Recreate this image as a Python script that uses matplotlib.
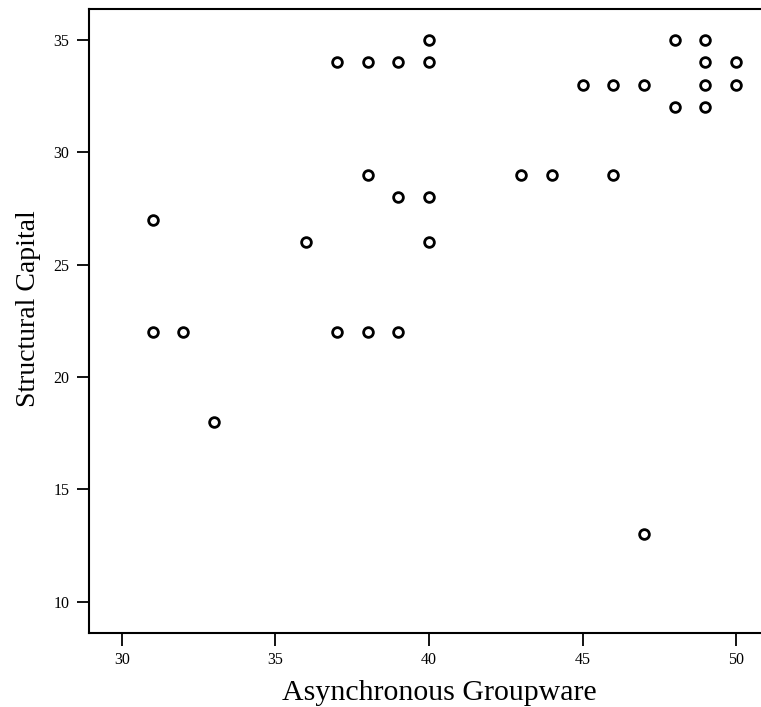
"""Scatter of structural capital against asynchronous groupware scores."""
import matplotlib.pyplot as plt

# observed (groupware, structural capital) pairs
groupware = [40, 37, 38, 39, 40, 48, 49, 49, 50, 45, 46, 47, 49, 50, 48, 49,
             38, 43, 44, 46, 39, 40, 31, 36, 40, 31, 32, 37, 38, 39, 33, 47]
structural = [35, 34, 34, 34, 34, 35, 35, 34, 34, 33, 33, 33, 33, 33, 32, 32,
              29, 29, 29, 29, 28, 28, 27, 26, 26, 22, 22, 22, 22, 22, 18, 13]

x_ticks = [30, 35, 40, 45, 50]
y_ticks = [10, 15, 20, 25, 30, 35]

SERIF = ["Liberation Serif", "DejaVu Serif"]

fig = plt.figure(figsize=(7.61, 7.07), dpi=100)
ax = fig.add_axes([0.117, 0.1047, 0.883, 0.8826])

ax.plot(groupware, structural, linestyle="none", marker="o", markersize=7,
        markerfacecolor="white", markeredgecolor="black", markeredgewidth=2,
        clip_on=False)

ax.set_xlim(28.93, 50.81)
ax.set_ylim(8.62, 36.36)
ax.set_xticks(x_ticks)
ax.set_yticks(y_ticks)

for side in ("left", "bottom", "top"):
    ax.spines[side].set_linewidth(1.5)
ax.spines["right"].set_visible(False)

ax.tick_params(axis="both", direction="out", length=9, width=1.3,
               labelsize=11.5, pad=5)
for lbl in ax.get_xticklabels() + ax.get_yticklabels():
    lbl.set_family(SERIF)

ax.set_xlabel("Asynchronous Groupware", family=SERIF, fontsize=21.5, labelpad=8)
ax.set_ylabel("Structural Capital", family=SERIF, fontsize=20, labelpad=9)
# the original plot frame was wider/taller than this crop, so labels sit off-centre
ax.xaxis.label.set_x(0.521)
ax.yaxis.label.set_y(0.519)

fig.savefig("out.png", dpi=100)
